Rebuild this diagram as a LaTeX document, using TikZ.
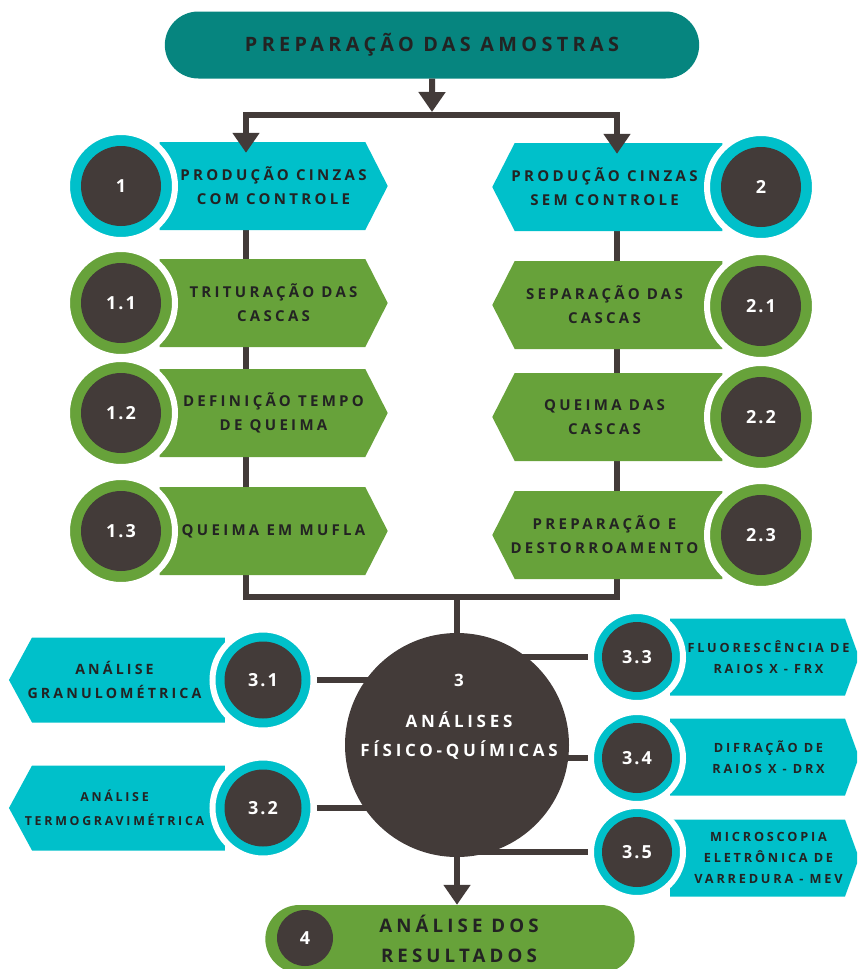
\documentclass[tikz,border=0pt]{standalone}
\usepackage{fontspec}
\setmainfont{Open Sans}
\newfontfamily\labelfont{Open Sans}[LetterSpace=22]
\newfontfamily\numfont{Open Sans}[LetterSpace=12]
\usetikzlibrary{
  positioning, arrows.meta, shapes.misc, shapes.symbols, backgrounds
}
\definecolor{petrol}{HTML}{06857F}
\definecolor{cyanbox}{HTML}{00C0CA}
\definecolor{leaf}{HTML}{67A23A}
\definecolor{cocoa}{HTML}{433B39}
\definecolor{ink}{HTML}{232323}

\tikzset{
  link/.style={line width=6pt, draw=cocoa},
  flow/.style={link, -{Triangle[width=26pt,length=20pt]}},
  boxtext/.style={text=ink, align=center, inner sep=0pt,
    font=\labelfont\bfseries\fontsize{15}{24}\selectfont},
  arrowbox/.style={signal, fill=#1, signal pointer angle=126,
    minimum height=88pt, inner sep=0pt},
  rbox/.style 2 args={arrowbox=#1, signal to=east,
    label={[boxtext, xshift=11pt]center:#2}},
  lbox/.style 2 args={arrowbox=#1, signal to=west,
    label={[boxtext, xshift=-14pt]center:#2}},
  numring/.style n args={3}{circle, draw=white, line width=6pt, fill=#1,
    minimum size=#2, inner sep=0pt, text=white,
    font=\numfont\bfseries\fontsize{18}{18}\selectfont,
    path picture={\fill[cocoa] (path picture bounding box.center) circle (#3);}},
}

\begin{document}
\begin{tikzpicture}[x=1pt, y=-1pt]
  \path[use as bounding box, clip] (0,0) rectangle (857,969);

  \node[rounded rectangle, fill=petrol, minimum width=541pt, minimum height=67pt,
    text=ink, font=\labelfont\bfseries\fontsize{19.8}{20}\selectfont]
    (prep) at (432,45) {PREPARAÇÃO DAS AMOSTRAS};

  % branch 1 (left)
  \node[rbox={cyanbox}{PRODUÇÃO CINZAS\\COM CONTROLE}, minimum width=228pt] (b1) at (262.5,186) {};
  \node[rbox={leaf}{TRITURAÇÃO DAS\\CASCAS}, minimum width=228pt] (b11) at (262.5,303) {};
  \node[rbox={leaf}{DEFINIÇÃO TEMPO\\DE QUEIMA}, minimum width=228pt] (b12) at (262.5,413) {};
  \node[rbox={leaf}{QUEIMA EM MUFLA}, minimum width=228pt] (b13) at (262.5,531) {};
  \node[numring={cyanbox}{108pt}{40pt}] (n1) at (121,186) {1};
  \node[numring={leaf}{108pt}{40pt}] (n11) at (121,303) {1.1};
  \node[numring={leaf}{108pt}{40pt}] (n12) at (121,413) {1.2};
  \node[numring={leaf}{108pt}{40pt}] (n13) at (121,531) {1.3};

  % branch 2 (right)
  \node[lbox={cyanbox}{PRODUÇÃO CINZAS\\SEM CONTROLE}, minimum width=230pt] (b2) at (618.5,187) {};
  \node[lbox={leaf}{SEPARAÇÃO DAS\\CASCAS}, minimum width=230pt] (b21) at (618.5,305) {};
  \node[lbox={leaf}{QUEIMA DAS\\CASCAS}, minimum width=230pt] (b22) at (618.5,417) {};
  \node[lbox={leaf}{PREPARAÇÃO E\\DESTORROAMENTO}, minimum width=230pt] (b23) at (618.5,535) {};
  \node[numring={cyanbox}{108pt}{40pt}] (n2) at (761,187) {2};
  \node[numring={leaf}{108pt}{40pt}] (n21) at (761,306) {2.1};
  \node[numring={leaf}{108pt}{40pt}] (n22) at (761,417) {2.2};
  \node[numring={leaf}{108pt}{40pt}] (n23) at (761,535) {2.3};

  % analyses
  \node[circle, fill=cocoa, minimum size=224pt] (ana) at (457,745) {};
  \node[text=white, align=center, font=\labelfont\bfseries\fontsize{17}{29}\selectfont]
    (anatext) at (459,717) {3\\[12pt]ANÁLISES\\FÍSICO-QUÍMICAS};

  \begin{scope}[boxtext/.append style={font=\labelfont\bfseries\fontsize{14.2}{24}\selectfont},
    arrowbox/.append style={minimum height=85pt, signal pointer angle=123}]
    \node[lbox={cyanbox}{ANÁLISE\\GRANULOMÉTRICA}, minimum width=216pt] (b31) at (128.5,680) {};
  \end{scope}
  \begin{scope}[boxtext/.append style={font=\labelfont\bfseries\fontsize{12.4}{24}\selectfont},
    arrowbox/.append style={minimum height=85pt, signal pointer angle=123}]
    \node[lbox={cyanbox}{ANÁLISE\\TERMOGRAVIMÉTRICA}, minimum width=216pt] (b32) at (128.5,808) {};
  \end{scope}
  \node[numring={cyanbox}{101pt}{38.5pt}] (c31) at (263,680) {3.1};
  \node[numring={cyanbox}{101pt}{38.5pt}] (c32) at (263,808) {3.2};

  \begin{scope}[boxtext/.append style={font=\labelfont\bfseries\fontsize{12.7}{21}\selectfont},
    arrowbox/.append style={minimum height=77pt, signal pointer angle=140}]
    \node[rbox={cyanbox}{FLUORESCÊNCIA DE\\RAIOS X - FRX}, minimum width=189pt] (b33) at (757.5,657) {};
    \node[rbox={cyanbox}{DIFRAÇÃO DE\\RAIOS X - DRX}, minimum width=189pt] (b34) at (757.5,757) {};
    \node[rbox={cyanbox}{MICROSCOPIA\\ELETRÔNICA DE\\VARREDURA - MEV}, minimum width=189pt] (b35) at (757.5,858) {};
  \end{scope}
  \node[numring={cyanbox}{92pt}{35pt}] (c33) at (637,657) {3.3};
  \node[numring={cyanbox}{92pt}{35pt}] (c34) at (637,758) {3.4};
  \node[numring={cyanbox}{92pt}{35pt}] (c35) at (637,852) {3.5};

  % results
  \node[rounded rectangle, fill=leaf, minimum width=376pt, minimum height=68pt,
    label={[boxtext, xshift=9pt, font=\labelfont\bfseries\fontsize{18.7}{30}\selectfont]center:ANÁLISE DOS\\RESULTADOS}]
    (res) at (450,939) {};
  \node[circle, fill=cocoa, minimum size=56pt, text=white,
    font=\numfont\bfseries\fontsize{18}{18}\selectfont] (n4) at (305,938) {4};

  % connectors
  \coordinate (split) at (432,115);
  \coordinate (ltop) at (246,115);
  \coordinate (rtop) at (617,115);
  \coordinate (lbot) at (246,597);
  \coordinate (rbot) at (617,597);
  \coordinate (mid) at (457,597);
  \begin{scope}[on background layer]
    \draw[link] (ltop) -- (lbot) -- (rbot) -- (rtop) -- cycle;
    \draw[link] (mid) -- (ana);
    \foreach \n in {31,32,33,34,35}
      \draw[link] (c\n) -- (c\n -| ana);
  \end{scope}
  \draw[flow, shorten >=3pt] (prep) -- (split);
  \draw[flow, shorten >=-11pt] (ltop) -- (ltop |- b1.north);
  \draw[flow, shorten >=-11pt] (rtop) -- (rtop |- b2.north);
  \draw[flow] (ana) -- (ana |- res.north);
\end{tikzpicture}
\end{document}
